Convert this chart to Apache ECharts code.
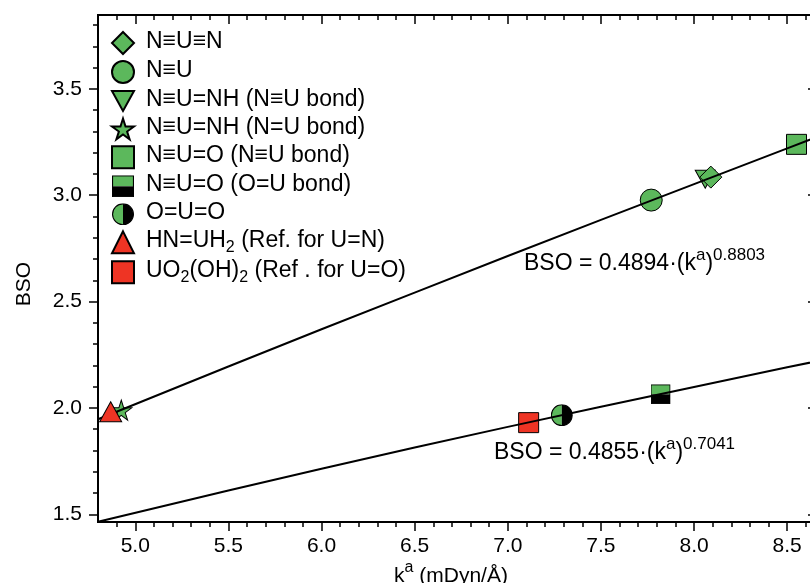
<!DOCTYPE html>
<html><head><meta charset="utf-8">
<script src="https://cdn.jsdelivr.net/npm/echarts@6/dist/echarts.min.js"></script>
<style>html,body{margin:0;padding:0;background:#fff}#c{width:810px;height:583px}</style>
</head><body><div id="c"></div>
<script>
// ---- data ----
var nunK = [8.09], nunBSO = [3.085];           // N≡U≡N
var nuK = [7.77], nuBSO = [2.977];             // N≡U
var nunhAK = [8.06], nunhABSO = [3.075];       // N≡U=NH (N≡U bond)
var nunhBK = [4.925], nunhBBSO = [1.99];       // N≡U=NH (N=U bond)
var nuoAK = [8.55], nuoABSO = [3.239];         // N≡U=O (N≡U bond)
var nuoBK = [7.82], nuoBBSO = [2.064];         // N≡U=O (O=U bond)
var ouoK = [7.29], ouoBSO = [1.966];           // O=U=O
var hnuhK = [4.868], hnuhBSO = [1.982];        // HN=UH2
var uoohK = [7.112], uoohBSO = [1.931];        // UO2(OH)2

var fitK = [4.8, 5.5, 6.0, 6.5, 7.0, 7.5, 8.0, 8.5, 8.7];
var fitUpper = [1.947, 2.195, 2.370, 2.542, 2.714, 2.884, 3.052, 3.220, 3.287];
var fitLower = [1.465, 1.612, 1.714, 1.814, 1.911, 2.006, 2.099, 2.191, 2.227];

var xMajorTicks = [5.0, 5.5, 6.0, 6.5, 7.0, 7.5, 8.0, 8.5];
var xMinorTicks = [4.9, 5.0, 5.1, 5.2, 5.3, 5.4, 5.5, 5.6, 5.7, 5.8, 5.9, 6.0, 6.1, 6.2, 6.3, 6.4, 6.5, 6.6, 6.7, 6.8, 6.9, 7.0, 7.1, 7.2, 7.3, 7.4, 7.5, 7.6, 7.7, 7.8, 7.9, 8.0, 8.1, 8.2, 8.3, 8.4, 8.5, 8.6];
var yMajorTicks = [1.5, 2.0, 2.5, 3.0, 3.5];
var yMinorTicks = [1.5, 1.6, 1.7, 1.8, 1.9, 2.0, 2.1, 2.2, 2.3, 2.4, 2.5, 2.6, 2.7, 2.8, 2.9, 3.0, 3.1, 3.2, 3.3, 3.4, 3.5, 3.6, 3.7, 3.8];

var names = ['N≡U≡N', 'N≡U', 'N≡U=NH (N≡U bond)', 'N≡U=NH (N=U bond)', 'N≡U=O (N≡U bond)', 'N≡U=O (O=U bond)', 'O=U=O', 'HN=UH2 (Ref. for U=N)', 'UO2(OH)2 (Ref . for U=O)'];
var legendRich = {
  'N≡U≡N': '{m|N≡U≡N}',
  'N≡U': '{m|N≡U}',
  'N≡U=NH (N≡U bond)': '{m|N≡U=NH (N≡U bond)}',
  'N≡U=NH (N=U bond)': '{m|N≡U=NH (N=U bond)}',
  'N≡U=O (N≡U bond)': '{m|N≡U=O (N≡U bond)}',
  'N≡U=O (O=U bond)': '{m|N≡U=O (O=U bond)}',
  'O=U=O': '{m|O=U=O}',
  'HN=UH2 (Ref. for U=N)': '{m|HN=UH}{b|2}{m| (Ref. for U=N)}',
  'UO2(OH)2 (Ref . for U=O)': '{m|UO}{b|2}{m|(OH)}{b|2}{m| (Ref . for U=O)}'
};

var GREEN = '#5cb85c', RED = '#ee3424';
function svgUri(s){ return 'image://data:image/svg+xml;charset=utf-8,' + encodeURIComponent(s); }
var halfSquare = svgUri('<svg xmlns="http://www.w3.org/2000/svg" width="40" height="40" viewBox="0 0 40 40"><rect x="1" y="1" width="38" height="19" fill="' + GREEN + '"/><rect x="1" y="20" width="38" height="19" fill="#000"/><rect x="1" y="1" width="38" height="38" fill="none" stroke="#000" stroke-width="2"/></svg>');
var halfCircle = svgUri('<svg xmlns="http://www.w3.org/2000/svg" width="40" height="40" viewBox="0 0 40 40"><path d="M20,1 A19,19 0 0 0 20,39 Z" fill="' + GREEN + '"/><path d="M20,1 A19,19 0 0 1 20,39 Z" fill="#000"/><circle cx="20" cy="20" r="19" fill="none" stroke="#000" stroke-width="2"/></svg>');
var star = 'path://M50,0 L61,35 L98,35 L68,57 L79,91 L50,70 L21,91 L32,57 L2,35 L39,35 Z';
var invTri = 'path://M0,0 L100,0 L50,90 Z';

function pts(k, b){ return k.map(function(v, i){ return [v, b[i]]; }); }
function sc(name, k, b, symbol, size, color, z){
  return { name: name, type: 'scatter', data: pts(k, b), symbol: symbol, symbolSize: size, z: z || 2,
    itemStyle: { color: color, borderColor: '#000', borderWidth: 1, opacity: 1 } };
}

var FONT = 'Liberation Sans, Arial';
var XMIN = 4.8, XMAX = 8.66, YMIN = 1.464, YMAX = 3.847;
var axisLine = { show: true, onZero: false, lineStyle: { color: '#000', width: 2 } };
function xa(pos, ticks, len, inside, labels){
  return { type: 'value', position: pos, min: XMIN, max: XMAX, splitLine: { show: false },
    axisLine: axisLine,
    axisTick: { show: true, customValues: ticks, length: len, inside: inside, lineStyle: { color: '#000', width: 1.5 } },
    axisLabel: labels ? { show: true, customValues: xMajorTicks, margin: 14, color: '#000', fontSize: 21, fontFamily: FONT, formatter: function(v){ return v.toFixed(1); } } : { show: false } };
}
function ya(pos, ticks, len, inside, labels){
  return { type: 'value', position: pos, min: YMIN, max: YMAX, splitLine: { show: false },
    axisLine: axisLine,
    axisTick: { show: true, customValues: ticks, length: len, inside: inside, lineStyle: { color: '#000', width: 1.5 } },
    axisLabel: labels ? { show: true, customValues: yMajorTicks, margin: 16, color: '#000', fontSize: 21, fontFamily: FONT, formatter: function(v){ return v.toFixed(1); } } : { show: false } };
}
var supRich = { n: { fontSize: 23, fontFamily: FONT, lineHeight: 28, verticalAlign: 'bottom' },
                s: { fontSize: 17, fontFamily: FONT, lineHeight: 16, verticalAlign: 'top' } };

var chart = echarts.init(document.getElementById('c'), null, { renderer: 'canvas' });
chart.setOption({
  animation: false,
  backgroundColor: '#fff',
  grid: { left: 98, top: 15, right: -7, bottom: 61, containLabel: false, outerBoundsMode: 'none' },
  xAxis: [xa('bottom', xMajorTicks, 9, false, true), xa('bottom', xMinorTicks, 5, false, false),
          xa('top', xMajorTicks, 9, true, false), xa('top', xMinorTicks, 5, true, false)],
  yAxis: [ya('left', yMajorTicks, 9, false, true), ya('left', yMinorTicks, 5, false, false),
          ya('right', yMajorTicks, 9, true, false), ya('right', yMinorTicks, 5, true, false)],
  legend: {
    orient: 'vertical', left: 111, top: 30, padding: 0, itemWidth: 22, itemHeight: 22, itemGap: 4,
    data: names, selectedMode: false,
    formatter: function(n){ return legendRich[n]; },
    textStyle: { color: '#000', padding: [0, 0, 0, 7],
      rich: { m: { fontSize: 23, fontFamily: FONT, color: '#000', lineHeight: 26, verticalAlign: 'top' },
              b: { fontSize: 16, fontFamily: FONT, color: '#000', lineHeight: 14, verticalAlign: 'bottom' } } }
  },
  series: [
    sc(names[2], nunhAK, nunhABSO, invTri, [20, 18], GREEN),
    sc(names[0], nunK, nunBSO, 'diamond', [22, 22], GREEN),
    sc(names[1], nuK, nuBSO, 'circle', 22, GREEN),
    sc(names[3], nunhBK, nunhBBSO, star, [21, 20], GREEN),
    sc(names[4], nuoAK, nuoABSO, 'rect', 20, GREEN),
    sc(names[5], nuoBK, nuoBBSO, halfSquare, 20, GREEN),
    sc(names[6], ouoK, ouoBSO, halfCircle, 22, GREEN),
    sc(names[7], hnuhK, hnuhBSO, 'triangle', [22, 20], RED, 5),
    sc(names[8], uoohK, uoohBSO, 'rect', 20, RED),
    { name: 'fitUpper', type: 'line', data: pts(fitK, fitUpper), showSymbol: false, z: 3, clip: true,
      lineStyle: { color: '#000', width: 2 } },
    { name: 'fitLower', type: 'line', data: pts(fitK, fitLower), showSymbol: false, z: 3, clip: true,
      lineStyle: { color: '#000', width: 2 } }
  ],
  graphic: [
    { type: 'text', left: 524, top: 247, z: 10,
      style: { text: '{n|BSO = 0.4894·(k}{s|a}{n|)}{s|0.8803}', fill: '#000', rich: supRich } },
    { type: 'text', left: 494, top: 436, z: 10,
      style: { text: '{n|BSO = 0.4855·(k}{s|a}{n|)}{s|0.7041}', fill: '#000', rich: supRich } },
    { type: 'text', left: 14, top: 262, z: 10,
      style: { text: 'BSO', fontSize: 21, fontFamily: FONT, fill: '#000' }, rotation: Math.PI / 2 },
    { type: 'text', left: 394, top: 560, z: 10,
      style: { text: '{n|k}{s|a}{n| (mDyn/Å)}', fill: '#000',
        rich: { n: { fontSize: 21, fontFamily: FONT, lineHeight: 27, verticalAlign: 'bottom' },
                s: { fontSize: 16, fontFamily: FONT, lineHeight: 16, verticalAlign: 'top' } } } }
  ]
});
</script></body></html>
